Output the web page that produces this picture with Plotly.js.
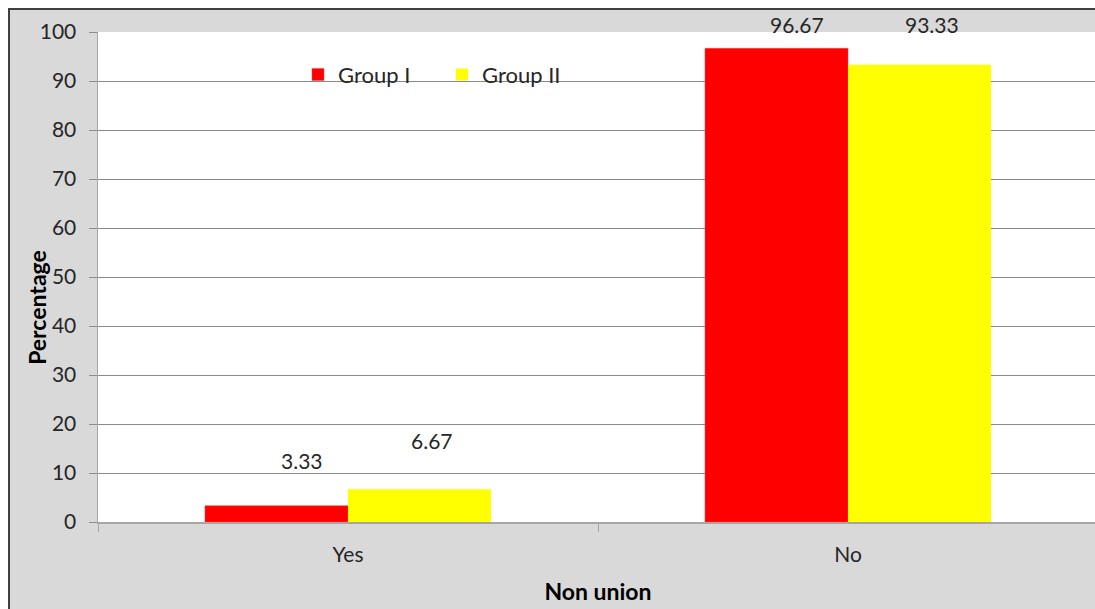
<!DOCTYPE html>
<html>
<head>
<meta charset="utf-8">
<script src="https://cdn.plot.ly/plotly-3.0.1.min.js"></script>
<style>
  html, body { margin: 0; padding: 0; background: #ffffff; overflow: hidden; width: 1095px; height: 609px; }
  #frame { position: absolute; left: 8px; top: 8px; width: 1100px; height: 620px;
           border-left: 2px solid #404040; border-top: 2px solid #404040; background: #d9d9d9; }
  #chart { position: absolute; left: 10px; top: 10px; }
</style>
</head>
<body>
<div id="frame"></div>
<div id="chart"></div>
<script>
const categories = ["Yes", "No"];
const groupNames = ["Group I", "Group II"];
const group1 = [3.33, 96.67];
const group2 = [6.67, 93.33];
const yTicks = [0, 10, 20, 30, 40, 50, 60, 70, 80, 90, 100];
const xTitle = "Non union";
const yTitle = "Percentage";

const FONT = "Lato, 'Open Sans', sans-serif";

const traces = [
  { type: "bar", name: groupNames[0], x: categories, y: group1,
    marker: { color: "#ff0000", line: { color: "#ff4040", width: 0.5 } } },
  { type: "bar", name: groupNames[1], x: categories, y: group2,
    marker: { color: "#ffff00", line: { width: 0 } } }
];

// value labels (annotations anchored to data coordinates)
const xShifts = [[-46.5, -51.5], [83.5, 83.5]];
const yShifts = [[31, 9], [34, 26]];
const annotations = [];
[group1, group2].forEach((vals, gi) => {
  vals.forEach((v, ci) => {
    annotations.push({
      x: categories[ci], y: v, xref: "x", yref: "y",
      text: v.toFixed(2), showarrow: false,
      xshift: xShifts[gi][ci], yshift: yShifts[gi][ci], yanchor: "bottom",
      font: { family: FONT, size: 21, color: "#262626" }
    });
  });
});
// y-axis title (placed slightly below centre, as in the original)
annotations.push({
  xref: "paper", yref: "paper", x: 0, y: 0.437, xshift: -61,
  xanchor: "center", yanchor: "middle", textangle: -90, showarrow: false,
  text: "<b>" + yTitle + "</b>", font: { family: FONT, size: 23, color: "#000000" }
});

const layout = {
  width: 1095, height: 599,
  margin: { l: 88, r: 7, t: 22, b: 87 },
  paper_bgcolor: "rgba(0,0,0,0)",
  plot_bgcolor: "#ffffff",
  barmode: "group",
  bargap: 0.428,
  bargroupgap: 0,
  font: { family: FONT, size: 21, color: "#262626" },
  showlegend: true,
  legend: {
    orientation: "h", x: 0.2, y: 0.913, xanchor: "left", yanchor: "middle",
    bgcolor: "rgba(0,0,0,0)", entrywidth: 99, entrywidthmode: "pixels",
    font: { family: FONT, size: 22, color: "#262626" }, itemwidth: 30
  },
  xaxis: {
    type: "category",
    showline: true, linecolor: "#a6a6a6", linewidth: 2,
    ticks: "outside", tickson: "boundaries", ticklen: 8, tickcolor: "#a6a6a6",
    ticklabelstandoff: 13,
    showgrid: false, zeroline: false,
    title: { text: "<b>" + xTitle + "</b>", font: { family: FONT, size: 23, color: "#000000" }, standoff: 19 }
  },
  yaxis: {
    range: [0, 100], tickvals: yTicks,
    showline: true, linecolor: "#a6a6a6", linewidth: 1.5,
    ticks: "outside", ticklen: 8, tickcolor: "#8c8c8c",
    ticklabelstandoff: 8,
    showgrid: true, gridcolor: "#8a8a8a", gridwidth: 1,
    zeroline: false
  },
  annotations: annotations
};

Plotly.newPlot("chart", traces, layout, { displayModeBar: false, staticPlot: true });
</script>
</body>
</html>
